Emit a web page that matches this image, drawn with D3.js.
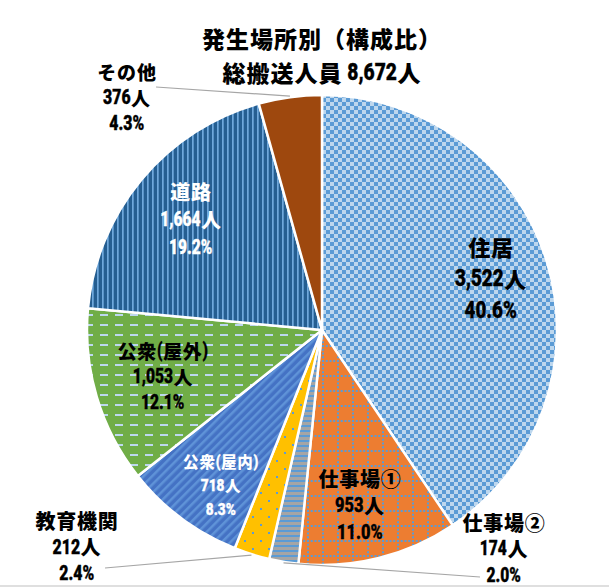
<!DOCTYPE html>
<html><head><meta charset="utf-8">
<script src="https://cdn.jsdelivr.net/npm/d3@7/dist/d3.min.js"></script>
<style>
html,body{margin:0;padding:0;background:#fff;}
svg{display:block;}
</style></head>
<body>
<script>
// ---- data ----
const categories = ["住居","仕事場①","仕事場②","教育機関","公衆(屋内)","公衆(屋外)","道路","その他"];
const counts     = [3522, 953, 174, 212, 718, 1053, 1664, 376];
const percents   = ["40.6%","11.0%","2.0%","2.4%","8.3%","12.1%","19.2%","4.3%"];
const titleLines = ["発生場所別（構成比）","総搬送人員 8,672人"];

// ---- layout / style (not data) ----
const W = 609, H = 587;
const cx = 322, cy = 330, R = 235;
const fills = ["url(#pCheck)","url(#pGrid)","url(#pHStripe)","url(#pDots)","url(#pDiag)","url(#pDash)","url(#pVStripe)","#9e480e"];
const labelStyle = [
  {x:491, y:246, cjk:22,   lat:23.5, color:"#000", inside:true,  gap:32},
  {x:360, y:478, cjk:20,   lat:20.5, color:"#000", inside:true,  gap:27},
  {x:504, y:522, cjk:20,   lat:19.5, color:"#000", inside:false, gap:26.5, lx:480, ly:577},
  {x:77,  y:520, cjk:20,   lat:19.8, color:"#000", inside:false, gap:26.5, lx:105, ly:568},
  {x:221, y:461, cjk:15.5, lat:17,   color:"#fff", inside:true,  gap:24},
  {x:163, y:350, cjk:19,   lat:19.5, color:"#000", inside:true,  gap:26},
  {x:191, y:191, cjk:20,   lat:19.5, color:"#fff", inside:true,  gap:28},
  {x:127, y:71,  cjk:19,   lat:19.8, color:"#000", inside:false, gap:26, lx:156, ly:87}
];

const svg = d3.select("body").append("svg").attr("width", W).attr("height", H);
const defs = svg.append("defs");

// checkerboard
let p = defs.append("pattern").attr("id","pCheck").attr("patternUnits","userSpaceOnUse").attr("width",8).attr("height",8);
p.append("rect").attr("width",8).attr("height",8).attr("fill","#bdd7ee");
p.append("rect").attr("width",4).attr("height",4).attr("fill","#5b9bd5");
p.append("rect").attr("x",4).attr("y",4).attr("width",4).attr("height",4).attr("fill","#5b9bd5");
// dotted grid on orange
p = defs.append("pattern").attr("id","pGrid").attr("patternUnits","userSpaceOnUse").attr("width",15).attr("height",15);
p.append("rect").attr("width",15).attr("height",15).attr("fill","#ed7d31");
p.append("path").attr("d","M0,1H15").attr("stroke","#5b9bd5").attr("stroke-width",2).attr("stroke-dasharray","2 1.75");
p.append("path").attr("d","M1,0V15").attr("stroke","#5b9bd5").attr("stroke-width",2).attr("stroke-dasharray","2 1.75");
// horizontal stripes on gray
p = defs.append("pattern").attr("id","pHStripe").attr("patternUnits","userSpaceOnUse").attr("width",5).attr("height",5);
p.append("rect").attr("width",5).attr("height",5).attr("fill","#a5a5a5");
p.append("rect").attr("width",5).attr("height",2).attr("fill","#5b9bd5");
// dots on yellow
p = defs.append("pattern").attr("id","pDots").attr("patternUnits","userSpaceOnUse").attr("width",16).attr("height",16);
p.append("rect").attr("width",16).attr("height",16).attr("fill","#ffc000");
p.append("rect").attr("x",2).attr("y",2).attr("width",2).attr("height",2).attr("fill","#5b9bd5");
p.append("rect").attr("x",10).attr("y",10).attr("width",2).attr("height",2).attr("fill","#5b9bd5");
// upward diagonal on blue
p = defs.append("pattern").attr("id","pDiag").attr("patternUnits","userSpaceOnUse").attr("width",6).attr("height",6).attr("patternTransform","rotate(45)");
p.append("rect").attr("width",6).attr("height",6).attr("fill","#4472c4");
p.append("rect").attr("width",2.5).attr("height",6).attr("fill","#5f93d8");
// dashes on green
p = defs.append("pattern").attr("id","pDash").attr("patternUnits","userSpaceOnUse").attr("width",15).attr("height",10);
p.append("rect").attr("width",15).attr("height",10).attr("fill","#70ad47");
p.append("rect").attr("x",3).attr("y",4).attr("width",8).attr("height",2).attr("fill","#bdd7ee");
// vertical stripes on dark blue
p = defs.append("pattern").attr("id","pVStripe").attr("patternUnits","userSpaceOnUse").attr("width",5).attr("height",5);
p.append("rect").attr("width",5).attr("height",5).attr("fill","#255e91");
p.append("rect").attr("width",1.7).attr("height",5).attr("fill","#6fa8dc");

const data = categories.map((c,i)=>({cat:c, value:counts[i], pct:percents[i], i}));
const pie = d3.pie().value(d=>d.value).sort(null).startAngle(0).endAngle(2*Math.PI);
const arcs = pie(data);
const arc = d3.arc().innerRadius(0).outerRadius(R);

const g = svg.append("g").attr("transform",`translate(${cx},${cy})`);
g.selectAll("path.slice").data(arcs).join("path").attr("class","slice")
  .attr("d",arc).attr("fill",d=>fills[d.data.i])
  .attr("stroke","#fff").attr("stroke-width",2.5).attr("stroke-linejoin","round");

// leader lines
arcs.forEach(a=>{
  const s = labelStyle[a.data.i];
  if (s.inside) return;
  const m = (a.startAngle + a.endAngle)/2;
  const px = cx + (R+1)*Math.sin(m), py = cy - (R+1)*Math.cos(m);
  svg.append("line").attr("x1",s.lx).attr("y1",s.ly).attr("x2",px).attr("y2",py)
    .attr("stroke","#a6a6a6").attr("stroke-width",1.2);
});

// text line with CJK runs in Noto Sans CJK and Latin runs as a narrow (scaled) face
const CJK = /[\u2460-\u24ff\u3000-\u9fff\uff00-\uffef]/;
const RUNS = /[\u2460-\u24ff\u3000-\u9fff\uff00-\uffef]+|[^\u2460-\u24ff\u3000-\u9fff\uff00-\uffef]+/g;
const NARROW = 0.8;
function drawLine(str, x, y, cjkSize, latSize, color, ls) {
  const grp = svg.append("g");
  let cur = 0;
  str.match(RUNS).forEach(r=>{
    const t = grp.append("text").attr("dominant-baseline","central").attr("fill",color)
      .style("white-space","pre").text(r);
    if (CJK.test(r)) {
      t.style("font-family",'"Noto Sans CJK JP",sans-serif').style("font-size",cjkSize+"px")
       .style("font-weight","900").attr("letter-spacing",ls).attr("x",cur).attr("y",0);
      cur += t.node().getComputedTextLength();
    } else {
      t.style("font-family",'Roboto,"Liberation Sans",sans-serif').style("font-size",latSize+"px")
       .style("font-weight","900").attr("stroke",color).attr("stroke-width",0.35)
       .attr("transform",`translate(${cur},0) scale(${NARROW},1)`);
      cur += t.node().getComputedTextLength()*NARROW + 0.5;
    }
  });
  grp.attr("transform",`translate(${x - cur/2},${y})`);
}

// labels
arcs.forEach(a=>{
  const d = a.data, s = labelStyle[d.i];
  const lines = [d.cat, d3.format(",")(d.value)+"人", d.pct];
  lines.forEach((t,k)=> drawLine(t, s.x, s.y + k*s.gap, s.cjk, s.lat, s.color, 0.8));
});

// title
titleLines.forEach((t,k)=> drawLine(t, 322, 38 + k*34, 23, 24, "#000", 1));

// bottom border
svg.append("line").attr("x1",0).attr("x2",W).attr("y1",586).attr("y2",586).attr("stroke","#bfbfbf").attr("stroke-width",1);
</script>
</body></html>
